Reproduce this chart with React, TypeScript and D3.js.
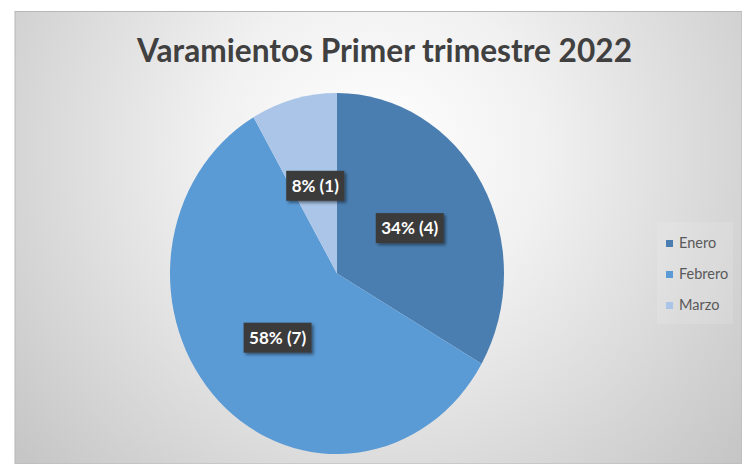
import React, { useEffect, useRef } from "react";
import * as d3 from "d3";

const categories = ["Enero", "Febrero", "Marzo"];
const values = [4, 7, 1];
const percentLabels = ["34%", "58%", "8%"];
const colors = ["#4a7eb0", "#5a9ad5", "#aac5e7"];
const title = "Varamientos Primer trimestre 2022";

const W = 742;
const H = 464;

export default function App() {
  const ref = useRef<SVGSVGElement | null>(null);

  useEffect(() => {
    const svg = d3.select(ref.current);
    svg.selectAll("*").remove();

    const defs = svg.append("defs");
    const bg = defs
      .append("radialGradient")
      .attr("id", "bg")
      .attr("gradientUnits", "userSpaceOnUse")
      .attr("cx", 378)
      .attr("cy", 150)
      .attr("r", 470);
    bg.append("stop").attr("offset", "0%").attr("stop-color", "#ffffff");
    bg.append("stop").attr("offset", "35%").attr("stop-color", "#f1f1f1");
    bg.append("stop").attr("offset", "100%").attr("stop-color", "#c6c6c6");

    const shadow = defs
      .append("filter")
      .attr("id", "lblShadow")
      .attr("x", "-20%")
      .attr("y", "-30%")
      .attr("width", "150%")
      .attr("height", "180%");
    shadow
      .append("feDropShadow")
      .attr("dx", 2)
      .attr("dy", 2)
      .attr("stdDeviation", 1.5)
      .attr("flood-color", "#000")
      .attr("flood-opacity", 0.45);

    // chart area
    svg
      .append("rect")
      .attr("x", 15)
      .attr("y", 11.5)
      .attr("width", W - 15)
      .attr("height", H - 11.5)
      .attr("fill", "url(#bg)")
      .attr("stroke", "#b8b8b8")
      .attr("stroke-width", 1);

    // title
    svg
      .append("text")
      .attr("x", 384.5)
      .attr("y", 62)
      .attr("text-anchor", "middle")
      .attr("font-family", "Lato, 'Open Sans', sans-serif")
      .attr("font-weight", "bold")
      .attr("font-size", 33)
      .attr("fill", "#404040")
      .attr("textLength", 495)
      .attr("lengthAdjust", "spacingAndGlyphs")
      .text(title);

    // pie
    const cx = 337;
    const cy = 273.5;
    const rx = 167;
    const ry = 180.5;
    const sy = ry / rx;

    const pie = d3
      .pie<number>()
      .sort(null)
      .value((d) => d);
    const arcs = pie(values);
    const arc = d3.arc<d3.PieArcDatum<number>>().innerRadius(0).outerRadius(rx);
    const labelArc = d3
      .arc<d3.PieArcDatum<number>>()
      .innerRadius(84)
      .outerRadius(84);

    const g = svg.append("g").attr("transform", `translate(${cx},${cy}) scale(1,${sy})`);
    g.selectAll("path")
      .data(arcs)
      .enter()
      .append("path")
      .attr("d", (d) => arc(d) as string)
      .attr("fill", (_d, i) => colors[i]);

    // labels
    const lg = svg.append("g").attr("transform", `translate(${cx},${cy})`);
    arcs.forEach((d, i) => {
      const [x, y0] = labelArc.centroid(d);
      const y = y0 * sy;
      const grp = lg.append("g").attr("transform", `translate(${x},${y})`);
      const rect = grp.append("rect").attr("fill", "#3b3b3b").attr("filter", "url(#lblShadow)");
      const t = grp
        .append("text")
        .attr("text-anchor", "middle")
        .attr("y", 6)
        .attr("font-family", "Lato, 'Open Sans', sans-serif")
        .attr("font-weight", "bold")
        .attr("font-size", 17)
        .attr("fill", "#ffffff")
        .text(`${percentLabels[i]} (${values[i]})`);
      const tw = (t.node() as SVGTextElement).getComputedTextLength();
      const bw = tw + 11;
      rect
        .attr("x", -bw / 2)
        .attr("y", -15)
        .attr("width", bw)
        .attr("height", 30);
    });

    // legend
    const legX = 666;
    const legY = 240;
    const step = 31;
    svg
      .append("rect")
      .attr("x", 657)
      .attr("y", 222)
      .attr("width", 76)
      .attr("height", 102)
      .attr("fill", "#ffffff")
      .attr("fill-opacity", 0.12);
    categories.forEach((c, i) => {
      svg
        .append("rect")
        .attr("x", legX)
        .attr("y", legY + i * step)
        .attr("width", 7)
        .attr("height", 7)
        .attr("fill", colors[i]);
      svg
        .append("text")
        .attr("x", legX + 13)
        .attr("y", legY + i * step + 7.5)
        .attr("font-family", "Lato, 'Open Sans', sans-serif")
        .attr("font-size", 14.5)
        .attr("fill", "#595959")
        .text(c);
    });
  }, []);

  return (
    <svg
      ref={ref}
      width={W}
      height={H}
      style={{ position: "absolute", left: 0, top: 0, display: "block" }}
    />
  );
}
